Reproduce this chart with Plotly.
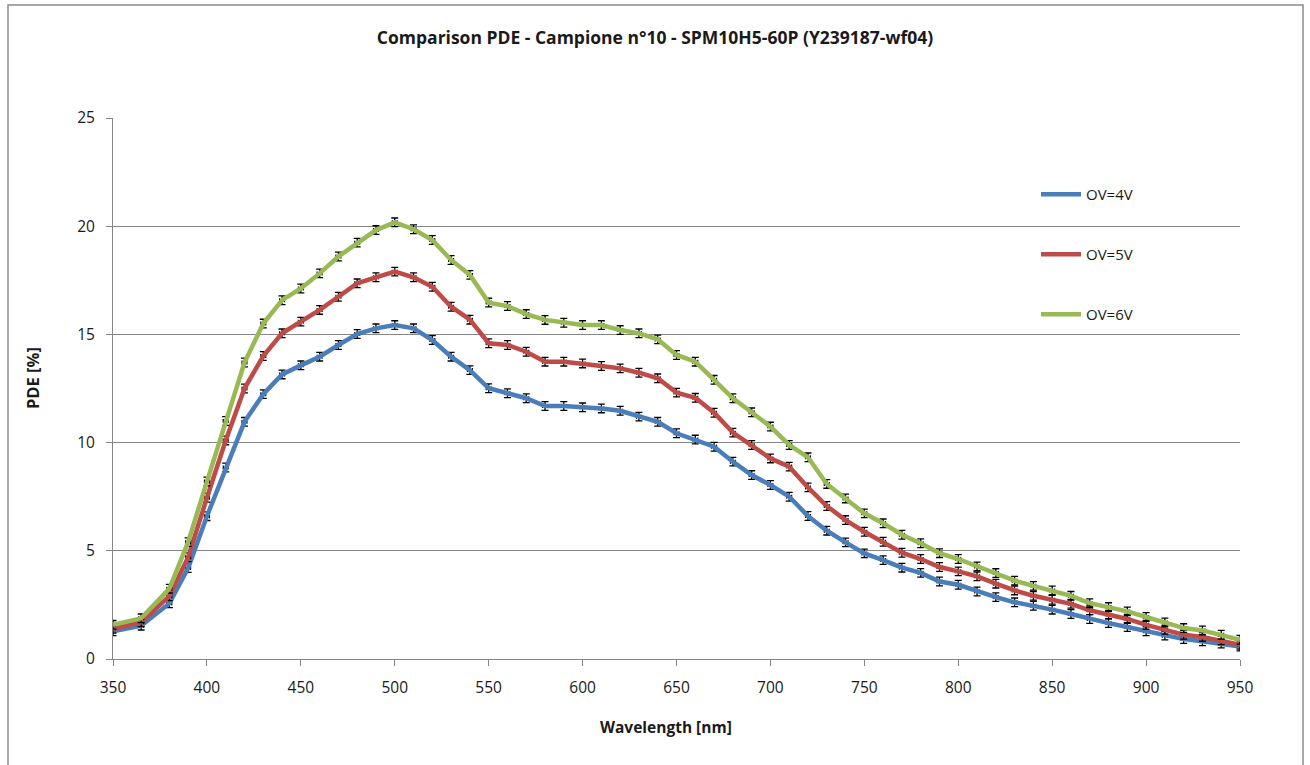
import plotly.graph_objects as go

wavelength = [350, 365, 380, 390, 400, 410, 420, 430, 440, 450, 460, 470, 480, 490, 500,
              510, 520, 530, 540, 550, 560, 570, 580, 590, 600, 610, 620, 630, 640, 650,
              660, 670, 680, 690, 700, 710, 720, 730, 740, 750, 760, 770, 780, 790, 800,
              810, 820, 830, 840, 850, 860, 870, 880, 890, 900, 910, 920, 930, 940, 950]

pde_ov4 = [1.28, 1.54, 2.57, 4.2, 6.6, 8.85, 10.96, 12.24, 13.15, 13.57, 13.97, 14.51, 15.02, 15.28, 15.43,
           15.28, 14.74, 13.97, 13.35, 12.51, 12.28, 12.05, 11.69, 11.69, 11.63, 11.58, 11.47, 11.2, 10.96, 10.43,
           10.14, 9.81, 9.12, 8.5, 8.04, 7.5, 6.61, 5.93, 5.39, 4.88, 4.57, 4.22, 3.98, 3.58, 3.43,
           3.12, 2.86, 2.62, 2.46, 2.28, 2.08, 1.85, 1.66, 1.48, 1.28, 1.08, 0.92, 0.82, 0.71, 0.58]

pde_ov5 = [1.4, 1.7, 2.9, 4.7, 7.45, 10.1, 12.5, 14.0, 15.05, 15.59, 16.13, 16.74, 17.36, 17.64, 17.9,
           17.64, 17.2, 16.28, 15.68, 14.59, 14.51, 14.2, 13.74, 13.74, 13.66, 13.54, 13.43, 13.23, 12.97, 12.31,
           12.07, 11.38, 10.46, 9.89, 9.27, 8.89, 7.93, 7.07, 6.42, 5.88, 5.42, 4.91, 4.62, 4.25, 4.05,
           3.82, 3.48, 3.17, 2.92, 2.74, 2.55, 2.25, 2.05, 1.85, 1.58, 1.35, 1.12, 1.02, 0.86, 0.66]

pde_ov6 = [1.58, 1.88, 3.25, 5.4, 8.2, 11.0, 13.7, 15.5, 16.58, 17.12, 17.82, 18.6, 19.24, 19.82, 20.18,
           19.86, 19.36, 18.44, 17.75, 16.47, 16.31, 15.94, 15.67, 15.54, 15.43, 15.43, 15.2, 15.05, 14.77, 14.05,
           13.74, 12.9, 12.05, 11.4, 10.74, 9.89, 9.32, 8.09, 7.42, 6.73, 6.27, 5.74, 5.35, 4.89, 4.62,
           4.28, 3.97, 3.62, 3.38, 3.17, 2.92, 2.58, 2.4, 2.2, 1.94, 1.69, 1.43, 1.32, 1.12, 0.89]

series_names = ["OV=4V", "OV=5V", "OV=6V"]
series_values = [pde_ov4, pde_ov5, pde_ov6]
series_colors = ["#4A7EBB", "#BE4B48", "#98B954"]

title_text = "Comparison PDE - Campione n°10 - SPM10H5-60P (Y239187-wf04)"
x_title = "Wavelength [nm]"
y_title = "PDE [%]"

FONT = "Open Sans"

fig = go.Figure()
for i, (name, vals, col) in enumerate(zip(series_names, series_values, series_colors)):
    fig.add_trace(go.Scatter(
        x=wavelength, y=vals, name=name, mode="lines",
        line=dict(color=col, width=4.5),
        legendgroup=f"g{i}",
        error_y=dict(type="constant", value=0.2, color="black", thickness=1.3, width=3.5),
        error_x=dict(type="constant", value=1.3, color="black", thickness=1.2, width=2),
    ))

L, R, T, B = 113, 70, 118, 106
W, H = 1310, 765
pw = W - L - R
ph = H - T - B

def px_x(p):
    return (p - L) / pw

def px_y(p):
    return (H - B - p) / ph

fig.update_layout(
    width=W, height=H,
    margin=dict(l=L, r=R, t=T, b=B, autoexpand=False),
    paper_bgcolor="white", plot_bgcolor="white",
    font=dict(family=FONT, size=15, color="#1a1a1a"),
    title=dict(text=title_text, x=0.5, xref="container", xanchor="center",
               y=1 - 38 / H, yref="container", yanchor="middle",
               font=dict(family=FONT, size=17.5, color="#1a1a1a", weight="bold")),
    xaxis=dict(range=[350, 950], dtick=50, tick0=350, showgrid=False, zeroline=False,
               showline=True, linecolor="#868686", linewidth=1,
               ticks="outside", ticklen=6, tickcolor="#868686",
               ticklabelstandoff=8, tickfont=dict(size=15.5)),
    yaxis=dict(range=[0, 25], dtick=5, showgrid=True, gridcolor="#868686", gridwidth=1,
               zeroline=False, showline=True, linecolor="#868686", linewidth=1,
               ticks="outside", ticklen=6, tickcolor="#868686",
               ticklabelstandoff=8, tickfont=dict(size=15.5)),
    legend=dict(x=px_x(1036), y=px_y(178), xanchor="left", yanchor="top",
                bgcolor="rgba(0,0,0,0)", font=dict(size=15, family=FONT),
                tracegroupgap=37.5, itemwidth=40, traceorder="grouped"),
    showlegend=True,
    annotations=[
        dict(text=x_title, x=px_x(666), y=px_y(727), xref="paper", yref="paper",
             showarrow=False, xanchor="center", yanchor="middle",
             font=dict(family=FONT, size=15.5, color="#1a1a1a", weight="bold")),
        dict(text=y_title, x=px_x(32), y=px_y(378), xref="paper", yref="paper",
             showarrow=False, xanchor="center", yanchor="middle", textangle=-90,
             font=dict(family=FONT, size=16.5, color="#1a1a1a", weight="bold")),
    ],
    shapes=[
        dict(type="rect", xref="paper", yref="paper",
             x0=px_x(8), x1=px_x(1303), y0=px_y(775), y1=px_y(5),
             line=dict(color="#8c8c8c", width=1.5), fillcolor="rgba(0,0,0,0)", layer="below"),
    ],
)

fig.write_html("out.html")
